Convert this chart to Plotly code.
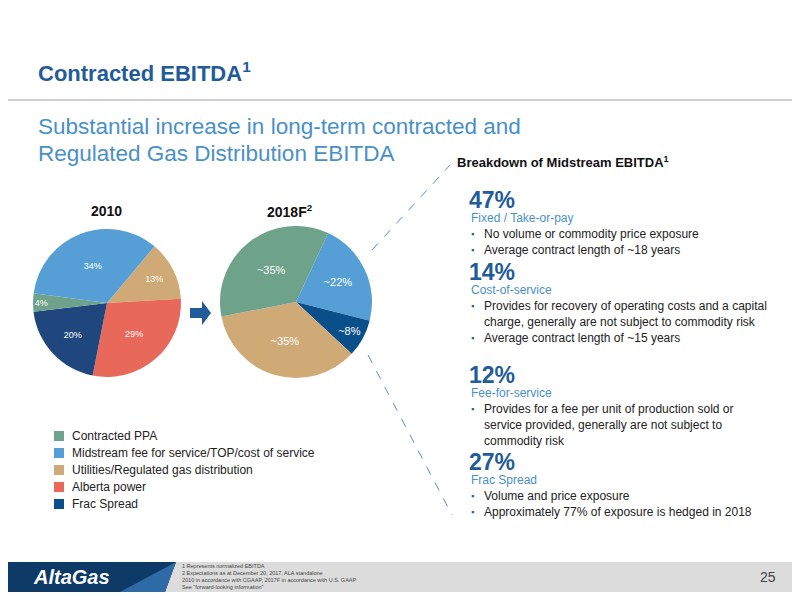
import plotly.graph_objects as go

cats = ["Contracted PPA", "Midstream fee for service/TOP/cost of service",
        "Utilities/Regulated gas distribution", "Alberta power", "Frac Spread"]
colors = ["#6fa28a", "#559fd6", "#cfaa77", "#e8695a", "#0b4f8a"]
frac_dark = "#1f477d"

# 2010 pie, clockwise from the Utilities wedge
v2010_cats = ["Utilities/Regulated gas distribution", "Alberta power", "Frac Spread",
              "Contracted PPA", "Midstream fee for service/TOP/cost of service"]
v2010 = [13, 29, 20, 4, 34]
t2010 = ["13%", "29%", "20%", "4%", "34%"]

# 2018F pie
v2018_cats = ["Midstream fee for service/TOP/cost of service", "Frac Spread",
              "Utilities/Regulated gas distribution", "Contracted PPA"]
v2018 = [22, 8, 35, 35]
t2018 = ["~22%", "~8%", "~35%", "~35%"]

cmap = dict(zip(cats, colors))
font = "Liberation Sans, Arial, sans-serif"

# page has an 8px body margin, so figure is 784x584 placed at (8, 8)
W, H, OFF = 784, 584, 8
def px(x):
    return (x - OFF) / W
def py(y):
    return 1 - (y - OFF) / H

fig = go.Figure()
c10 = [cmap[c] for c in v2010_cats]
c10[2] = frac_dark
fig.add_trace(go.Pie(labels=v2010_cats, values=v2010, text=t2010, textinfo="text",
                     sort=False, direction="clockwise", rotation=40,
                     marker=dict(colors=c10), textfont=dict(color="white", size=9, family=font),
                     insidetextorientation="horizontal", hoverinfo="label+value",
                     domain=dict(x=[px(33), px(181)], y=[py(377), py(229)]), showlegend=False))
fig.add_trace(go.Pie(labels=v2018_cats, values=v2018, text=t2018, textinfo="text",
                     sort=False, direction="clockwise", rotation=25,
                     marker=dict(colors=[cmap[c] for c in v2018_cats]),
                     textfont=dict(color="white", size=11, family=font),
                     insidetextorientation="horizontal", hoverinfo="label+value",
                     domain=dict(x=[px(220), px(372)], y=[py(378), py(226)]), showlegend=False))

shapes = []
ann = []

def txt(x, y, s, size, color="#222", anchor="left"):
    ann.append(dict(x=px(x), y=py(y), xref="paper", yref="paper", text=s,
                    showarrow=False, xanchor=anchor, yanchor="middle", align="left",
                    font=dict(size=size, color=color, family=font)))

blue = "#1f5c99"
txt(36, 72, "<b>Contracted EBITDA<sup>1</sup></b>", 22, blue)
shapes.append(dict(type="line", xref="paper", yref="paper", x0=0, x1=1, y0=py(100), y1=py(100),
                   line=dict(color="#d0d0d0", width=2)))
txt(36, 126, "Substantial increase in long-term contracted and", 22.5, "#4a90c8")
txt(36, 153, "Regulated Gas Distribution EBITDA", 22.5, "#4a90c8")
txt(107, 211, "<b>2010</b>", 14, "#111", anchor="center")
txt(290, 211, "<b>2018F<sup>2</sup></b>", 14, "#111", anchor="center")

# arrow between pies
pts = [(190, 308), (202, 308), (202, 301), (211, 313), (202, 325), (202, 318), (190, 318)]
shapes.append(dict(type="path", xref="paper", yref="paper",
                   path="M " + " L ".join("%f %f" % (px(a), py(b)) for a, b in pts) + " Z",
                   fillcolor="#1f5c99", line=dict(width=0)))

# legend
for i, c in enumerate(cats):
    y = 436 + i * 17
    shapes.append(dict(type="rect", xref="paper", yref="paper", x0=px(54), x1=px(64),
                       y0=py(y + 5), y1=py(y - 5), fillcolor=colors[i], line=dict(width=0)))
    txt(70, y, c, 12, "#222")

# dashed connector lines
for (x0, y0, x1, y1) in [(372, 250, 450, 165), (368, 355, 452, 515)]:
    shapes.append(dict(type="line", xref="paper", yref="paper", x0=px(x0), x1=px(x1),
                       y0=py(y0), y1=py(y1), line=dict(color="#5b8fc4", width=1, dash="dash")))

txt(455, 162, "<b>Breakdown of Midstream EBITDA<sup>1</sup></b>", 13, "#111")
blocks = [
    (200, "47%", "Fixed / Take-or-pay", ["No volume or commodity price exposure",
                                          "Average contract length of ~18 years"]),
    (272, "14%", "Cost-of-service", ["Provides for recovery of operating costs and a capital",
                                     "  charge, generally are not subject to commodity risk",
                                     "Average contract length of ~15 years"]),
    (375, "12%", "Fee-for-service", ["Provides for a fee per unit of production sold or",
                                     "  service provided, generally are not subject to",
                                     "  commodity risk"]),
    (462, "27%", "Frac Spread", ["Volume and price exposure",
                                 "Approximately 77% of exposure is hedged in 2018"]),
]
for y, pct, head, lines in blocks:
    txt(467, y, "<b>" + pct + "</b>", 23, blue)
    txt(469, y + 18, head, 12, "#4a90c8")
    for k, l in enumerate(lines):
        yy = y + 34 + k * 16
        if l.startswith("  "):
            txt(482, yy, l.strip(), 12, "#222")
        else:
            txt(469, yy, "▪", 9, "#1f5c99")
            txt(482, yy, l, 12, "#222")

# footer
shapes.append(dict(type="rect", xref="paper", yref="paper", x0=0, x1=1, y0=0, y1=py(562),
                   fillcolor="#dcdcdc", line=dict(width=0), layer="below"))
shapes.append(dict(type="path", xref="paper", yref="paper",
                   path="M 0 0 L 0 %f L %f %f L %f 0 Z" % (py(562), px(176), py(562), px(165)),
                   fillcolor="#0d3a66", line=dict(width=0)))
shapes.append(dict(type="path", xref="paper", yref="paper",
                   path="M %f 0 L %f %f L %f 0 Z" % (px(120), px(176), py(562), px(165)),
                   fillcolor="#2d6aa6", line=dict(width=0)))
txt(72, 577, "<b><i>AltaGas</i></b>", 20, "white", anchor="center")
foot = ["1 Represents normalized EBITDA", "2 Expectations as at December 20, 2017, ALA standalone",
        "2010 in accordance with CGAAP, 2017F in accordance with U.S. GAAP",
        "See \"forward-looking information\""]
for k, f in enumerate(foot):
    txt(180, 566 + k * 7, f, 5.5, "#444")
txt(778, 577, "25", 14, "#444", anchor="right")

fig.update_layout(width=W, height=H, margin=dict(l=0, r=0, t=0, b=0),
                  paper_bgcolor="white", plot_bgcolor="white",
                  shapes=shapes, annotations=ann,
                  xaxis=dict(visible=False), yaxis=dict(visible=False))
fig.write_html("out.html")
